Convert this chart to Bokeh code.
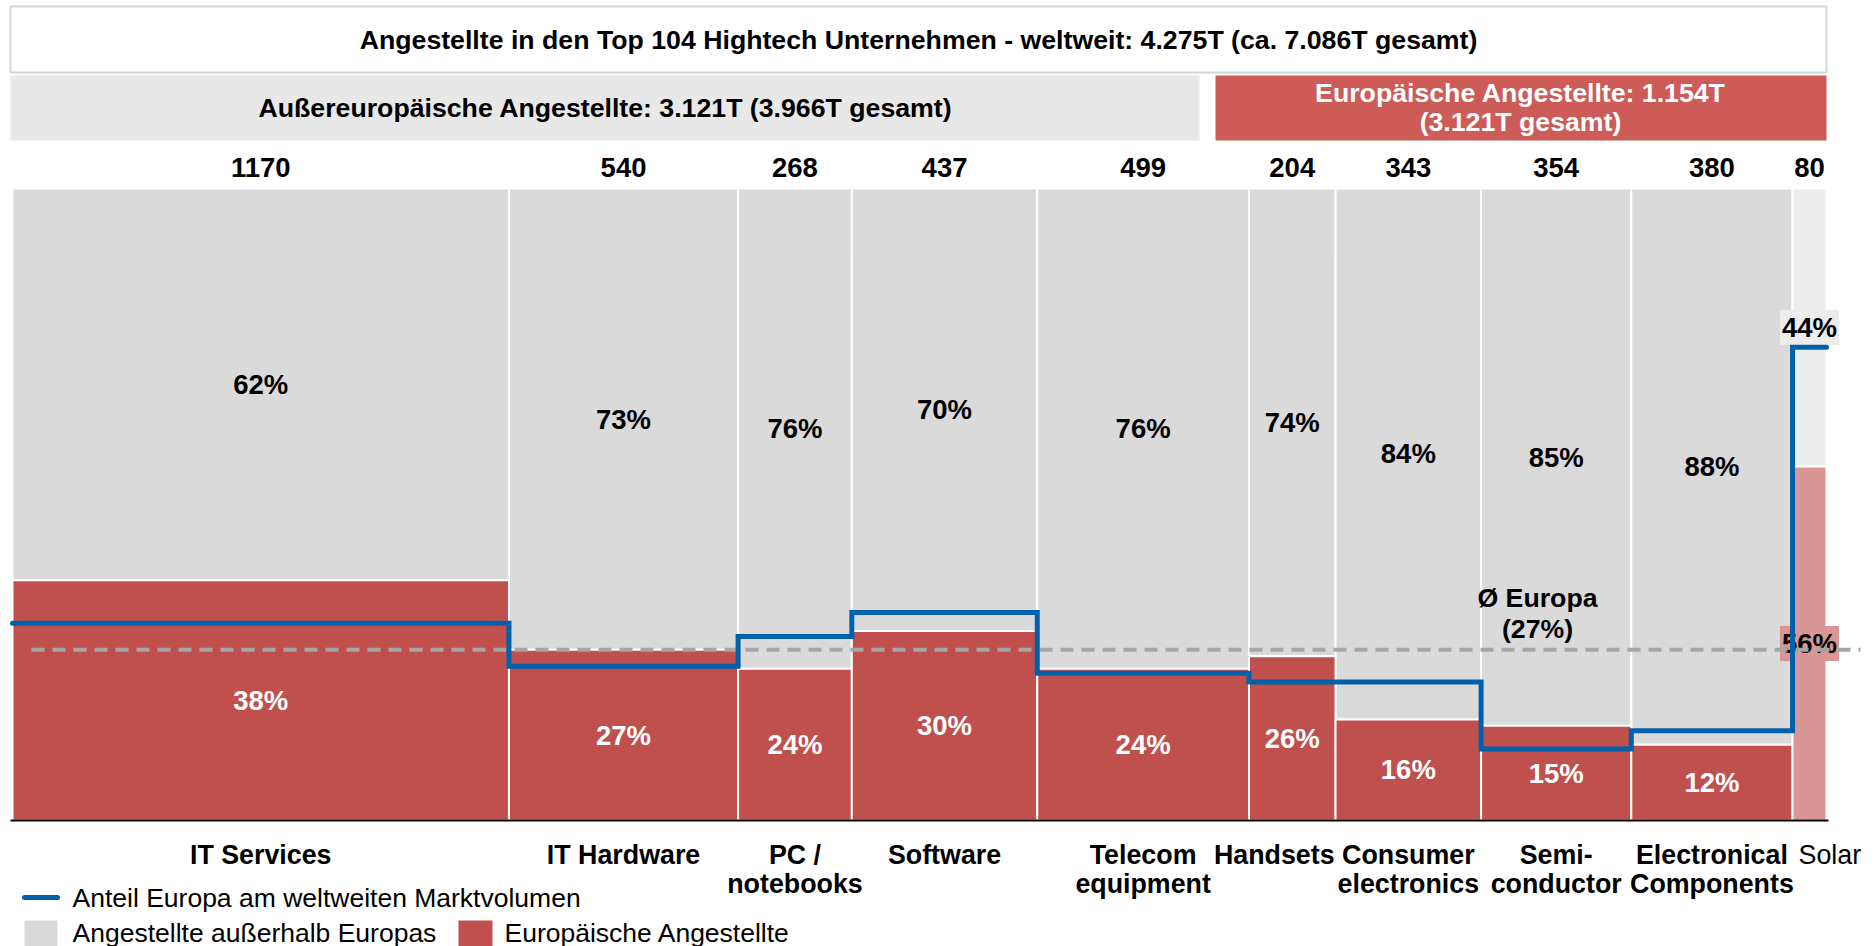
import numpy as np
from bokeh.plotting import figure
from bokeh.models import Range1d, ColumnDataSource
from bokeh.core.properties import value
from bokeh.embed import file_html
from bokeh.resources import INLINE

# ---------------- data ----------------
title_text = "Angestellte in den Top 104 Hightech Unternehmen - weltweit: 4.275T (ca. 7.086T gesamt)"
non_eu_text = "Außereuropäische Angestellte: 3.121T (3.966T gesamt)"
eu_text = "Europäische Angestellte: 1.154T\n(3.121T gesamt)"

categories = ["IT Services", "IT Hardware", "PC /\nnotebooks", "Software", "Telecom\nequipment",
              "Handsets", "Consumer\nelectronics", "Semi-\nconductor", "Electronical\nComponents", "Solar"]
employees = [1170, 540, 268, 437, 499, 204, 343, 354, 380, 80]
europe_pct = [38, 27, 24, 30, 24, 26, 16, 15, 12, 56]
market_share_pct = [31.2, 24.4, 29.1, 32.9, 23.3, 21.9, 21.9, 11.3, 14.2, 74.9]
avg_europe_pct = 27
avg_label = "Ø Europa\n(27%)"
legend_labels = ["Anteil Europa am weltweiten Marktvolumen",
                 "Angestellte außerhalb Europas",
                 "Europäische Angestellte"]

# ---------------- layout ----------------
FONT = "Liberation Sans"
W, H = 1876, 946
X0, X1 = 12, 1826     # screen px of x=0 and x=total
Y0, Y1 = 820, 188     # screen px of y=0 and y=1
total = sum(employees)
sx = (X1 - X0) / total
sy = (Y0 - Y1)


def px2x(px):
    return (px - X0) / sx


def px2y(py):
    return (Y0 - py) / sy


RED = "#c0504d"
GREY = "#dadada"
RED_LIGHT = "#d99694"
GREY_LIGHT = "#ececec"
BLUE = "#0060a9"
FS_HEAD = "26.7px"
FS_PCT = "27.5px"
FS_CNT = "27.5px"
FS_CAT = "26.8px"
FS_LEG = "26.5px"

p = figure(width=W, height=H, x_range=Range1d(px2x(0), px2x(W)), y_range=Range1d(px2y(H), px2y(0)),
           output_backend="svg", toolbar_location=None, min_border=0,
           x_axis_location=None, y_axis_location=None, outline_line_color=None)
p.grid.visible = False
p.background_fill_color = "white"
p.border_fill_color = "white"

# ---------------- header boxes ----------------
p.quad(left=[px2x(10)], right=[px2x(1826)], top=[px2y(6)], bottom=[px2y(72)],
       fill_color="white", line_color="#d4d4d4", line_width=2)
p.quad(left=[px2x(10)], right=[px2x(1199)], top=[px2y(75)], bottom=[px2y(140)],
       fill_color="#e8e8e8", line_color=None)
p.quad(left=[px2x(1215)], right=[px2x(1826)], top=[px2y(75)], bottom=[px2y(140)],
       fill_color="#cd5b58", line_color=None)

p.text(x=[px2x(918)], y=[px2y(39)], text=[title_text], text_font=value(FONT), text_font_style="bold",
       text_font_size=FS_HEAD, text_align="center", text_baseline="middle", text_color="black")
p.text(x=[px2x(605)], y=[px2y(107)], text=[non_eu_text], text_font=value(FONT), text_font_style="bold",
       text_font_size=FS_HEAD, text_align="center", text_baseline="middle", text_color="black")
p.text(x=[px2x(1520)], y=[px2y(107)], text=[eu_text], text_font=value(FONT), text_font_style="bold",
       text_font_size=FS_HEAD, text_align="center", text_baseline="middle", text_color="white",
       text_line_height=0.94)

# ---------------- bars ----------------
n = len(categories)
right = np.cumsum(employees).astype(float)
left = right - np.array(employees, dtype=float)
center = (left + right) / 2
eu = np.array(europe_pct) / 100.0
is_solar = [c == "Solar" for c in categories]

src = ColumnDataSource(dict(
    left=left, right=right, center=center, eu=eu,
    one=[1.0] * n, zero=[0.0] * n,
    red_fill=[RED_LIGHT if s else RED for s in is_solar],
    grey_fill=[GREY_LIGHT if s else GREY for s in is_solar],
))
p.quad(left="left", right="right", bottom="eu", top="one", fill_color={"field": "grey_fill"},
       line_color="white", line_width=2, source=src)
p.quad(left="left", right="right", bottom="zero", top="eu", fill_color={"field": "red_fill"},
       line_color="white", line_width=2, source=src)

# axis baseline
p.segment(x0=[px2x(10)], y0=[0], x1=[px2x(1828)], y1=[0], line_color="black", line_width=2)

# ---------------- value labels ----------------
normal = [i for i in range(n) if not is_solar[i]]
solar = [i for i in range(n) if is_solar[i]]

p.text(x=[center[i] for i in normal], y=[(eu[i] + 1) / 2 for i in normal],
       text=[f"{100 - europe_pct[i]}%" for i in normal], text_font=value(FONT), text_font_style="bold",
       text_font_size=FS_PCT, text_align="center", text_baseline="middle", text_color="black")
p.text(x=[center[i] for i in normal], y=[eu[i] / 2 for i in normal],
       text=[f"{europe_pct[i]}%" for i in normal], text_font=value(FONT), text_font_style="bold",
       text_font_size=FS_PCT, text_align="center", text_baseline="middle", text_color="white")

for i in solar:
    p.text(x=[center[i]], y=[(eu[i] + 1) / 2], text=[f"{100 - europe_pct[i]}%"],
           text_font=value(FONT), text_font_style="bold", text_font_size=FS_PCT,
           text_align="center", text_baseline="middle", text_color="black",
           background_fill_color=GREY_LIGHT, padding=2)
    p.text(x=[center[i]], y=[eu[i] / 2], text=[f"{europe_pct[i]}%"],
           text_font=value(FONT), text_font_style="bold", text_font_size=FS_PCT,
           text_align="center", text_baseline="middle", text_color="black",
           background_fill_color=RED_LIGHT, padding=2)

# employee counts above columns
p.text(x=center, y=[px2y(167)] * n, text=[str(v) for v in employees], text_font=value(FONT),
       text_font_style="bold", text_font_size=FS_CNT, text_align="center", text_baseline="middle",
       text_color="black")

# ---------------- lines ----------------
p.line(x=[px2x(31), px2x(1860)], y=[avg_europe_pct / 100] * 2, line_color="#a6a6a6",
       line_width=4, line_dash="13 8")

lx, ly = [], []
for l, r, m in zip(left, right, market_share_pct):
    lx += [l, r]
    ly += [m / 100, m / 100]
p.line(x=lx, y=ly, line_color=BLUE, line_width=5, line_join="miter", line_cap="round")

p.text(x=[px2x(1537)], y=[px2y(613)], text=[avg_label], text_font=value(FONT), text_font_style="bold",
       text_font_size=FS_HEAD, text_align="center", text_baseline="middle", text_color="black",
       text_line_height=1.02)

# ---------------- category labels ----------------
cat_x, cat_align, cat_style = [], [], []
for i, c in enumerate(categories):
    if c == "Handsets":
        cat_x.append(right[i] - 1 / sx)
        cat_align.append("right")
        cat_style.append("bold")
    elif c == "Solar":
        cat_x.append(left[i] + 6 / sx)
        cat_align.append("left")
        cat_style.append("normal")
    else:
        cat_x.append(center[i])
        cat_align.append("center")
        cat_style.append("bold")
for st in ["bold", "normal"]:
    idx = [i for i in range(n) if cat_style[i] == st]
    p.text(x=[cat_x[i] for i in idx], y=[px2y(839)] * len(idx), text=[categories[i] for i in idx],
           text_align=[cat_align[i] for i in idx], text_font=value(FONT), text_font_style=st,
           text_font_size=FS_CAT, text_baseline="top", text_color="black", text_line_height=0.98)

# ---------------- legend ----------------
p.line(x=[px2x(24), px2x(57)], y=[px2y(897)] * 2, line_color=BLUE, line_width=5, line_cap="round")
p.text(x=[px2x(72)], y=[px2y(897)], text=[legend_labels[0]], text_font=value(FONT),
       text_font_size=FS_LEG, text_align="left", text_baseline="middle", text_color="black")
p.quad(left=[px2x(24)], right=[px2x(57)], top=[px2y(920)], bottom=[px2y(950)],
       fill_color=GREY, line_color=None)
p.text(x=[px2x(72)], y=[px2y(932)], text=[legend_labels[1]], text_font=value(FONT),
       text_font_size=FS_LEG, text_align="left", text_baseline="middle", text_color="black")
p.quad(left=[px2x(458)], right=[px2x(492)], top=[px2y(920)], bottom=[px2y(950)],
       fill_color=RED, line_color=None)
p.text(x=[px2x(504)], y=[px2y(932)], text=[legend_labels[2]], text_font=value(FONT),
       text_font_size=FS_LEG, text_align="left", text_baseline="middle", text_color="black")

open("out.html", "w").write(file_html(p, INLINE))
